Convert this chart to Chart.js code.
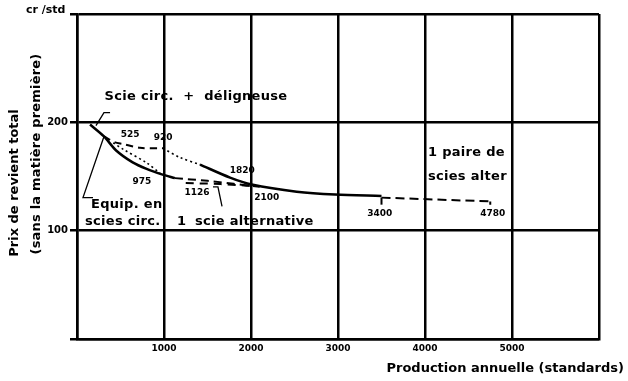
<!DOCTYPE html>
<html lang="fr">
<head>
  <meta charset="UTF-8" />
  <title>Prix de revient total</title>
  <script src="https://cdn.jsdelivr.net/npm/chart.js"></script>
  <style>
    body { margin: 0; background: #fff; }
    canvas { display: block; }
  </style>
</head>
<body>
  <canvas id="costChart" width="628" height="381"></canvas>
  <script>
    // axis ticks
    const xTicks = [1000, 2000, 3000, 4000, 5000];
    const yTicks = [100, 200];

    // equipment in circular saws (heavy curve)
    const circX = [150, 310, 450, 640, 800, 975, 1126];
    const circY = [198, 187, 174, 163, 157, 152, 148.5];

    // circular saw + edger, dashed to 920
    const delignX = [310, 437, 525, 724, 990];
    const delignY = [187, 181.5, 180, 176.5, 176];

    // dotted continuation from 920
    const dot1X = [990, 1184, 1414];
    const dot1Y = [176, 167.5, 161];

    // heavy curve 1820 -> 3400
    const altX = [1414, 1759, 2008, 2525, 2966, 3500];
    const altY = [161, 149, 142.6, 136, 133.3, 132];

    // dotted 525 -> 975
    const dot2X = [416, 533, 801, 954];
    const dot2Y = [181, 175, 162.6, 153];

    // one reciprocating saw, dashed 1126 -> 2100
    const dashAX = [1126, 1500, 2100];
    const dashAY = [148.5, 146, 140.5];
    const dashBX = [1250, 1650, 2050];
    const dashBY = [144, 143, 141];

    // pair of reciprocating saws 3400 -> 4780
    const pairX = [3500, 3500, 4750, 4750];
    const pairY = [124, 130.5, 127, 124];

    // label leader lines
    const leadDelX = [218, 310, 380];
    const leadDelY = [197, 209, 209];
    const leadEqX = [310, 69, 184];
    const leadEqY = [187, 130.5, 130.5];
    const leadAltX = [1563, 1620, 1667];
    const leadAltY = [140.5, 140.5, 122.5];

    // text annotations: [text, x, y, size, align]
    const notes = [
      ['Scie circ.  +  déligneuse', 1368, 224, 13, 'center'],
      ['Equip. en', 161, 124, 13, 'left'],
      ['scies circ.', 92, 108, 13, 'left'],
      ['1', 1150, 108, 13, 'left'],
      ['scie alternative', 1356, 108, 13, 'left'],
      ['1 paire de', 4034, 172, 13, 'left'],
      ['scies alter', 4034, 150, 13, 'left'],
      ['525', 610, 189, 9, 'center'],
      ['920', 990, 186, 9, 'center'],
      ['975', 745, 145, 9, 'center'],
      ['1126', 1380, 135, 9, 'center'],
      ['1820', 1900, 155, 9, 'center'],
      ['2100', 2180, 130.5, 9, 'center'],
      ['3400', 3480, 115.5, 9, 'center'],
      ['4780', 4780, 115.5, 9, 'center']
    ];

    const pts = (xs, ys) => xs.map((x, i) => ({ x: x, y: ys[i] }));

    function line(xs, ys, width, dash) {
      return {
        data: pts(xs, ys),
        borderColor: '#000',
        borderWidth: width,
        borderDash: dash || [],
        pointRadius: 0,
        tension: 0.3,
        fill: false
      };
    }

    const FONT = "'DejaVu Sans', sans-serif";

    const textPlugin = {
      id: 'texts',
      afterDraw(chart) {
        const c = chart.ctx;
        const xs = chart.scales.x, ys = chart.scales.y;
        c.save();
        c.fillStyle = '#000';
        c.textBaseline = 'middle';
        notes.forEach(n => {
          c.font = 'bold ' + n[3] + 'px ' + FONT;
          c.textAlign = n[4];
          c.letterSpacing = n[3] > 10 ? '0.3px' : '0px';
          c.fillText(n[0], xs.getPixelForValue(n[1]), ys.getPixelForValue(n[2]));
        });
        c.letterSpacing = '0px';
        // unit and axis titles
        c.font = 'bold 11px ' + FONT;
        c.textAlign = 'left';
        c.fillText('cr /std', 26, 10);
        c.font = 'bold 13px ' + FONT;
        c.textAlign = 'right';
        c.fillText('Production annuelle (standards)', 624, 369);
        c.translate(15, 183);
        c.rotate(-Math.PI / 2);
        c.textAlign = 'center';
        c.fillText('Prix de revient total', 0, 0);
        c.restore();
        c.save();
        c.font = 'bold 13px ' + FONT;
        c.fillStyle = '#000';
        c.textBaseline = 'middle';
        c.textAlign = 'center';
        c.letterSpacing = '0.2px';
        c.translate(37, 154);
        c.rotate(-Math.PI / 2);
        c.fillText('(sans la matière première)', 0, 0);
        c.restore();
      }
    };

    const pair = line(pairX, pairY, 2);
    pair.tension = 0;
    pair.segment = { borderDash: ctx => ctx.p0DataIndex === 1 ? [9, 5] : [] };

    const leaders = [
      line(leadDelX, leadDelY, 1.3),
      line(leadEqX, leadEqY, 1.3),
      line(leadAltX, leadAltY, 1.3)
    ];
    leaders.forEach(d => d.tension = 0);

    new Chart(document.getElementById('costChart'), {
      type: 'line',
      data: {
        datasets: [
          line(circX, circY, 2.5),
          line(delignX, delignY, 2, [7, 5]),
          line(dot1X, dot1Y, 1.6, [2, 3]),
          line(altX, altY, 2.5),
          line(dot2X, dot2Y, 1.6, [2, 3]),
          line(dashAX, dashAY, 2, [8, 5]),
          line(dashBX, dashBY, 2, [8, 6]),
          pair
        ].concat(leaders)
      },
      options: {
        responsive: false,
        animation: false,
        layout: { padding: { top: 14, right: 29, left: 0, bottom: 0 } },
        plugins: { legend: { display: false }, tooltip: { enabled: false } },
        scales: {
          x: {
            type: 'linear',
            min: 0,
            max: 6000,
            afterFit: s => { s.height = 42; },
            afterBuildTicks: s => { s.ticks = [0].concat(xTicks, [6000]).map(v => ({ value: v })); },
            ticks: {
              color: '#000',
              font: { family: FONT, size: 9, weight: 'bold' },
              padding: 4,
              maxRotation: 0,
              callback: v => xTicks.includes(v) ? String(v) : ''
            },
            grid: { color: '#000', lineWidth: 2.5, drawTicks: false },
            border: { color: '#000', width: 2.5 }
          },
          y: {
            type: 'linear',
            min: 0,
            max: 300,
            afterFit: s => { s.width = 77; },
            afterBuildTicks: s => { s.ticks = [0].concat(yTicks, [300]).map(v => ({ value: v })); },
            ticks: {
              color: '#000',
              font: { family: FONT, size: 10, weight: 'bold' },
              padding: 2,
              callback: v => yTicks.includes(v) ? String(v) : ''
            },
            grid: { color: '#000', lineWidth: 2.5, tickLength: 7 },
            border: { color: '#000', width: 2.5 }
          }
        }
      },
      plugins: [textPlugin]
    });
  </script>
</body>
</html>
